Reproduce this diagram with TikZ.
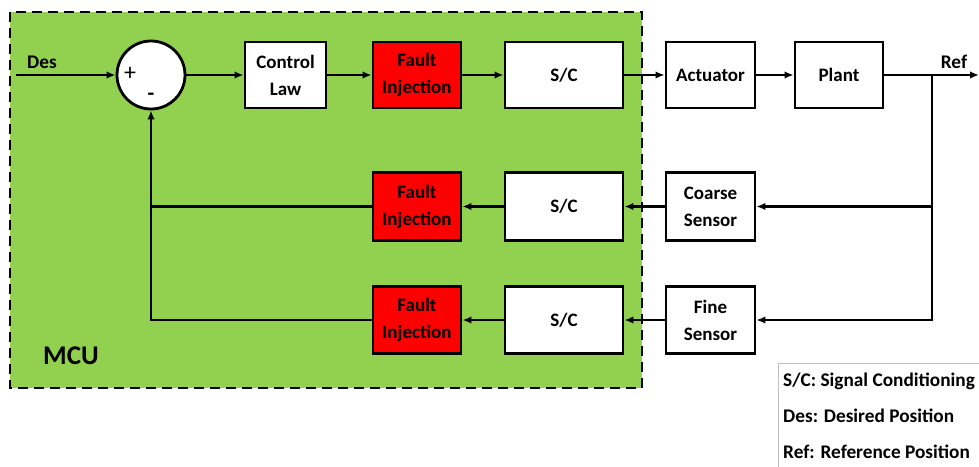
\documentclass[tikz,border=0pt]{standalone}
\usepackage{fontspec}
\setmainfont{Carlito}
\usetikzlibrary{arrows.meta}
\definecolor{mcugreen}{HTML}{92D050}
\definecolor{faultred}{HTML}{FF0000}
\tikzset{
  blk/.style={draw=black, line width=2.8pt, fill=white, font=\fontsize{19}{27}\selectfont\bfseries,
    align=center, inner sep=0pt, minimum height=66pt},
  fault/.style={blk, fill=faultred},
  conn/.style={line width=2.3pt},
  arr/.style={conn, -{Latex[length=9pt,width=7.5pt]}},
  lbl/.style={font=\fontsize{19.3}{22}\selectfont\bfseries, inner sep=0pt},
}
\begin{document}
\begin{tikzpicture}[x=1pt,y=-1pt]
\useasboundingbox (0,0) rectangle (979,466);
% MCU region
\draw[fill=mcugreen, line width=2.8pt, dash pattern=on 10pt off 6pt] (10,12) rectangle (642,388);
\node[font=\fontsize{27}{30}\selectfont\bfseries, inner sep=0pt, anchor=west] (mcu) at (43,356) {MCU};

% forward path
\node[draw=black, line width=2.8pt, fill=white, circle, minimum size=68pt, inner sep=0pt] (sum) at (151,75) {};
\node[font=\fontsize{24}{26}\selectfont, inner sep=0pt] (plus) at (130,74) {+};
\node[font=\fontsize{22}{24}\selectfont\bfseries, inner sep=0pt] (minus) at (151,97) {-};
\node[blk, minimum width=81pt] (cl) at (285.5,75) {Control\\Law};
\node[fault, minimum width=88pt] (fi1) at (417,75) {Fault\\Injection};
\node[blk, minimum width=118pt] (sc1) at (564,75) {S/C};
\node[blk, minimum width=89pt] (act) at (710.5,75) {Actuator};
\node[blk, minimum width=88pt] (plant) at (839,75) {Plant};

% feedback paths
\node[blk, minimum width=89pt, minimum height=68pt] (coarse) at (710.5,206.5) {Coarse\\Sensor};
\node[blk, minimum width=118pt, minimum height=68pt] (sc2) at (564,206.5) {S/C};
\node[fault, minimum width=88pt, minimum height=68pt] (fi2) at (417,206.5) {Fault\\Injection};
\node[blk, minimum width=89pt, minimum height=67pt] (fine) at (710.5,320) {Fine\\Sensor};
\node[blk, minimum width=118pt, minimum height=67pt] (sc3) at (564,320) {S/C};
\node[fault, minimum width=88pt, minimum height=67pt] (fi3) at (417,320) {Fault\\Injection};

% signal labels
\coordinate (desin) at (16,75);
\coordinate (refout) at (979,75);
\coordinate (br) at (932,75);
\coordinate (j2) at (151,206.5);
\coordinate (j3) at (151,320);
\node[lbl] (des) at (42,62) {Des};
\node[lbl] (ref) at (954,62) {Ref};

% connectors
\draw[arr] (desin) -- (sum.west);
\draw[arr] (sum.east) -- (cl.west);
\draw[arr] (cl.east) -- (fi1.west);
\draw[arr] (fi1.east) -- (sc1.west);
\draw[arr] (sc1.east) -- (act.west);
\draw[arr] (act.east) -- (plant.west);
\draw[arr] (plant.east) -- (refout);
\draw[arr] (br) |- (coarse.east);
\draw[arr] (br) |- (fine.east);
\draw[arr] (coarse.west) -- (sc2.east);
\draw[arr] (sc2.west) -- (fi2.east);
\draw[arr] (fine.west) -- (sc3.east);
\draw[arr] (sc3.west) -- (fi3.east);
\draw[conn] (fi2.west) -- (j2);
\draw[arr] (fi3.west) -- (j3) -- (sum.south);

% legend
\draw[gray!50, line width=0.8pt] (778,470) -- (778,363) -- (985,363);
\node[lbl, anchor=west] (leg1) at (783,381) {S/C: Signal Conditioning};
\node[lbl, anchor=west] (leg2) at (783,416) {Des: Desired Position};
\node[lbl, anchor=west] (leg3) at (783,452) {Ref: Reference Position};
\end{tikzpicture}
\end{document}
